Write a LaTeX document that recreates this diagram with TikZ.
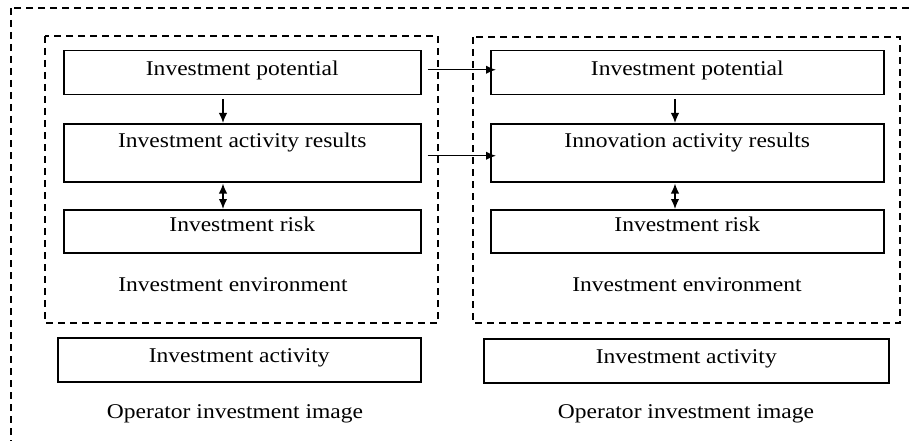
\documentclass[tikz,border=0pt]{standalone}
\usepackage{fontspec}
\setmainfont[FakeStretch=1.12]{Liberation Serif}
\usetikzlibrary{arrows.meta}
\begin{document}
\begin{tikzpicture}[x=1pt,y=-1pt,
  box/.style={draw, line width=1.5pt, inner sep=0pt, anchor=north west, font=\fontsize{21}{25}\selectfont},
  dashbox/.style={draw, line width=1.4pt, dash pattern=on 7pt off 5pt},
  lbl/.style={anchor=base, inner sep=0pt, font=\fontsize{21}{25}\selectfont},
  arr/.style={line width=1.4pt, -{Latex[length=10pt,width=8.5pt]}},
  darr/.style={line width=1.4pt, {Latex[length=10pt,width=8.5pt]}-{Latex[length=10pt,width=8.5pt]}}]
\useasboundingbox (0,0) rectangle (909,441);
\fill[white] (0,0) rectangle (909,441);
\begin{scope}
\clip (0,0) rectangle (909,441);
\draw[dashbox] (11,8) rectangle (940,470);
\end{scope}
\draw[dashbox] (45,36) rectangle (438,323);
\draw[dashbox] (473,37) rectangle (900,323);
% left column
\node[box, minimum width=357, text height=25, text depth=19] (lb1) at (63,50) {Investment potential};
\node[box, minimum width=357, text height=24, text depth=34] (lb2) at (63,123) {Investment activity results};
\node[box, minimum width=357, text height=22, text depth=21] (lb3) at (63,209) {Investment risk};
\node[lbl] (lenv) at (233,291) {Investment environment};
\node[box, minimum width=363, text height=25, text depth=19] (lact) at (57,337) {Investment activity};
\node[lbl] (limg) at (235,418) {Operator investment image};
% right column
\node[box, minimum width=393, text height=25, text depth=19] (rb1) at (490,50) {Investment potential};
\node[box, minimum width=393, text height=24, text depth=34] (rb2) at (490,123) {Innovation activity results};
\node[box, minimum width=393, text height=22, text depth=21] (rb3) at (490,209) {Investment risk};
\node[lbl] (renv) at (687,291) {Investment environment};
\node[box, minimum width=405, text height=25, text depth=19] (ract) at (483,338) {Investment activity};
\node[lbl] (rimg) at (686,418) {Operator investment image};
% connectors
\draw[arr] ([yshift=-4pt]lb1.south -| 223,0) -- (lb2.north -| 223,0);
\draw[arr] ([yshift=-4pt]rb1.south -| 675,0) -- (rb2.north -| 675,0);
\draw[darr] ([yshift=-1pt]lb2.south -| 223,0) -- (lb3.north -| 223,0);
\draw[darr] ([yshift=-1pt]rb2.south -| 675,0) -- (rb3.north -| 675,0);
\draw[arr] ([xshift=6pt,yshift=3pt]lb1.east) -- ([xshift=6pt,yshift=3pt]rb1.west);
\draw[arr] ([xshift=6pt,yshift=-3pt]lb2.east) -- ([xshift=6pt,yshift=-3pt]rb2.west);
\end{tikzpicture}
\end{document}
